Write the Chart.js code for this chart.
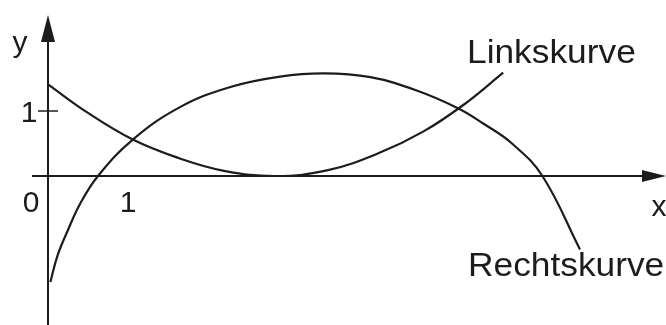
<!DOCTYPE html>
<html>
<head>
<meta charset="utf-8">
<script src="https://cdn.jsdelivr.net/npm/chart.js@4"></script>
<style>
  html, body { margin: 0; padding: 0; background: #fff; }
  #wrap { width: 666px; height: 325px; position: relative; }
</style>
</head>
<body>
<div id="wrap"><canvas id="chart"></canvas></div>
<script>
// values
const linksX = [0, 0.5, 1.06, 1.6, 2.2, 2.85, 3.5, 4.15, 4.7, 5.2, 5.69];
const linksY = [1.41, 0.97, 0.56, 0.29, 0.08, 0.0, 0.09, 0.36, 0.69, 1.1, 1.59];

const rechtsX = [0.03, 0.12, 0.25, 0.4, 0.625, 1.06, 1.65, 2.28, 2.9, 3.45, 4.03, 4.6, 5.13, 5.45, 5.8, 6.18, 6.65];
const rechtsY = [-1.63, -1.22, -0.83, -0.43, 0, 0.56, 1.06, 1.37, 1.53, 1.58, 1.52, 1.32, 1.04, 0.8, 0.5, 0, -1.13];

const xTickLabels = ['0', '1'];
const yTickLabels = ['1'];
const curveLabels = ['Linkskurve', 'Rechtskurve'];

const INK = '#1c1c1c';
const FONT = '"Liberation Sans", Arial, sans-serif';

const toPts = (xs, ys) => xs.map((x, i) => ({ x, y: ys[i] }));

const axesPlugin = {
  id: 'mathAxes',
  afterDatasetsDraw(chart) {
    const { ctx, scales: { x: sx, y: sy } } = chart;
    const x0 = sx.getPixelForValue(0);
    const y0 = sy.getPixelForValue(0);
    const x1 = sx.getPixelForValue(1);
    const y1 = sy.getPixelForValue(1);
    ctx.save();
    ctx.strokeStyle = INK;
    ctx.fillStyle = INK;
    ctx.lineWidth = 2;

    // y axis
    ctx.beginPath();
    ctx.moveTo(x0, 325);
    ctx.lineTo(x0, 38);
    ctx.stroke();
    ctx.beginPath();
    ctx.moveTo(x0, 15);
    ctx.lineTo(x0 - 7, 42);
    ctx.lineTo(x0 + 7, 42);
    ctx.closePath();
    ctx.fill();

    // x axis
    ctx.beginPath();
    ctx.moveTo(32, y0);
    ctx.lineTo(645, y0);
    ctx.stroke();
    ctx.beginPath();
    ctx.moveTo(666, y0);
    ctx.lineTo(642, y0 - 6);
    ctx.lineTo(642, y0 + 6);
    ctx.closePath();
    ctx.fill();

    // tick at y = 1
    ctx.lineWidth = 1.5;
    ctx.beginPath();
    ctx.moveTo(x0 - 10, y1);
    ctx.lineTo(x0 + 10, y1);
    ctx.stroke();

    // labels
    ctx.font = '30px ' + FONT;
    ctx.textAlign = 'center';
    ctx.textBaseline = 'alphabetic';
    ctx.fillText('y', 20, 52);
    ctx.fillText(yTickLabels[0], 29, y1 + 11);
    ctx.fillText(xTickLabels[0], 31, y0 + 36);
    ctx.fillText(xTickLabels[1], x1, y0 + 36);
    ctx.fillText('x', 659, 216);

    ctx.font = '33px ' + FONT;
    ctx.textAlign = 'left';
    const stretch = 1.07;
    ctx.save();
    ctx.translate(467, 63);
    ctx.scale(stretch, 1);
    ctx.fillText(curveLabels[0], 0, 0);
    ctx.restore();
    ctx.save();
    ctx.translate(468, 276);
    ctx.scale(stretch, 1);
    ctx.fillText(curveLabels[1], 0, 0);
    ctx.restore();

    ctx.restore();
  }
};

new Chart(document.getElementById('chart').getContext('2d'), {
  type: 'scatter',
  data: {
    datasets: [
      {
        label: curveLabels[0],
        data: toPts(linksX, linksY),
        showLine: true,
        borderColor: INK,
        borderWidth: 2.2,
        pointRadius: 0,
        tension: 0.4,
        fill: false,
      },
      {
        label: curveLabels[1],
        data: toPts(rechtsX, rechtsY),
        showLine: true,
        borderColor: INK,
        borderWidth: 2.2,
        pointRadius: 0,
        tension: 0.4,
        fill: false,
      },
    ],
  },
  options: {
    responsive: true, maintainAspectRatio: false,
    animation: false,
    layout: { padding: 0 },
    plugins: { legend: { display: false }, tooltip: { enabled: false } },
    scales: {
      x: { type: 'linear', display: false, min: -0.6, max: 7.725 },
      y: { type: 'linear', display: false, min: -2.2923, max: 2.7077 },
    },
  },
  plugins: [axesPlugin],
});
</script>
</body>
</html>
